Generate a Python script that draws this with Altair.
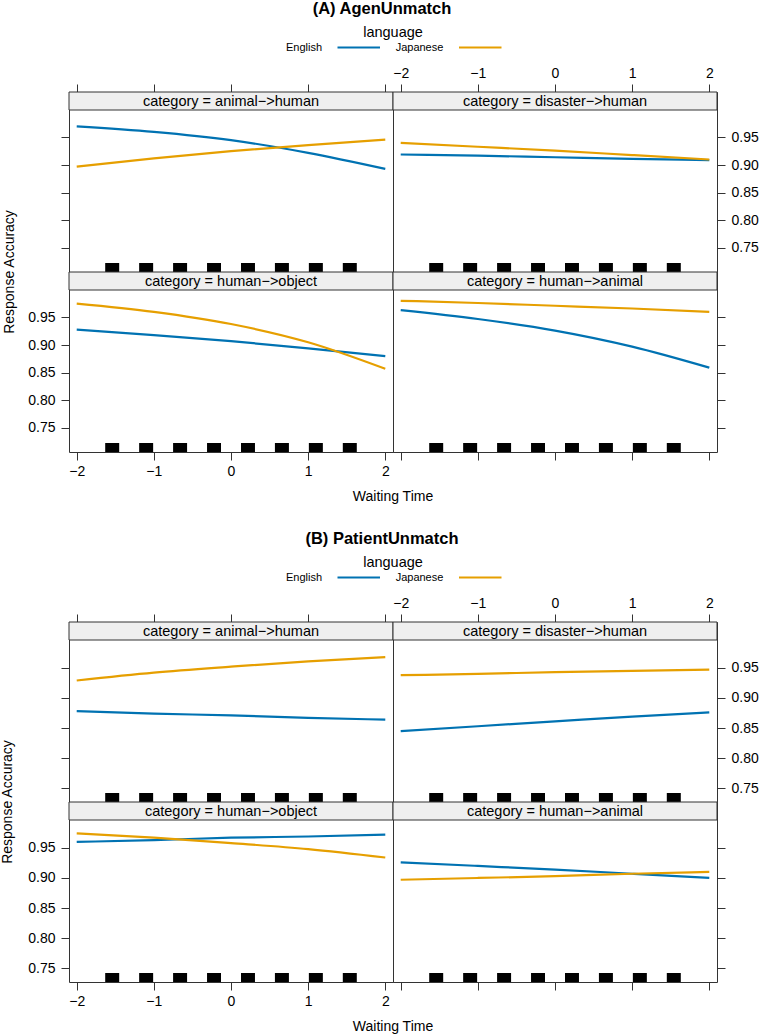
import altair as alt
import pandas as pd

FONT = "Liberation Sans"

# ---- data -------------------------------------------------------------
wait_points = [-2, -1, 0, 1, 2]
wait_ticks = [-2, -1, 0, 1, 2]
acc_ticks = [0.75, 0.80, 0.85, 0.90, 0.95]
languages = ["English", "Japanese"]
line_colors = ["#0072B2", "#E69F00"]
categories = ["animal->human", "disaster->human", "human->object", "human->animal"]
strip_labels = [
    "category = animal\u2212>human",
    "category = disaster\u2212>human",
    "category = human\u2212>object",
    "category = human\u2212>animal",
]
# observed waiting-time levels shown as a rug
rug_positions = [-1.54, -1.10, -0.66, -0.22, 0.22, 0.66, 1.10, 1.54]

# (A) AgenUnmatch: fitted response accuracy at each waiting time
a_animal_human_en = [0.970, 0.960, 0.945, 0.922, 0.893]
a_animal_human_ja = [0.897, 0.912, 0.925, 0.936, 0.946]
a_disaster_human_en = [0.919, 0.917, 0.914, 0.911, 0.909]
a_disaster_human_ja = [0.940, 0.933, 0.926, 0.918, 0.910]
a_human_object_en = [0.928, 0.918, 0.907, 0.894, 0.880]
a_human_object_ja = [0.975, 0.960, 0.938, 0.905, 0.857]
a_human_animal_en = [0.963, 0.947, 0.926, 0.897, 0.859]
a_human_animal_ja = [0.980, 0.976, 0.971, 0.966, 0.960]

# (B) PatientUnmatch
b_animal_human_en = [0.878, 0.874, 0.871, 0.867, 0.864]
b_animal_human_ja = [0.929, 0.942, 0.952, 0.961, 0.968]
b_disaster_human_en = [0.845, 0.853, 0.861, 0.869, 0.876]
b_disaster_human_ja = [0.938, 0.940, 0.943, 0.945, 0.947]
b_human_object_en = [0.960, 0.963, 0.967, 0.969, 0.972]
b_human_object_ja = [0.974, 0.967, 0.958, 0.948, 0.934]
b_human_animal_en = [0.926, 0.920, 0.914, 0.907, 0.900]
b_human_animal_ja = [0.897, 0.900, 0.903, 0.907, 0.910]

# ---- layout constants ---------------------------------------------------
W, H, S = 324, 180, 18          # panel width, panel height, strip height
X_DOMAIN = [-2.1, 2.1]


def effects_frame(series):
    rows = []
    for cat, (en, ja) in zip(categories, series):
        for lang, vals in zip(languages, [en, ja]):
            for w, p in zip(wait_points, vals):
                rows.append({"category": cat, "language": lang, "wait": w, "acc": p})
    return pd.DataFrame(rows)


df_a = effects_frame([
    (a_animal_human_en, a_animal_human_ja),
    (a_disaster_human_en, a_disaster_human_ja),
    (a_human_object_en, a_human_object_ja),
    (a_human_animal_en, a_human_animal_ja),
])
df_b = effects_frame([
    (b_animal_human_en, b_animal_human_ja),
    (b_disaster_human_en, b_disaster_human_ja),
    (b_human_object_en, b_human_object_ja),
    (b_human_animal_en, b_human_animal_ja),
])
rug_df = pd.DataFrame({"wait": rug_positions})


def x_axis(orient, labels):
    return alt.Axis(orient=orient, values=wait_ticks, labels=labels, format="d",
                    title=None, labelFlush=False, labelPadding=4)


def y_axis(orient, labels):
    return alt.Axis(orient=orient, values=acc_ticks, labels=labels, format=".2f",
                    title=None, labelPadding=6)


def text_layer(text, x, y, size, weight="normal", align="center", angle=0):
    return alt.Chart(pd.DataFrame({"t": [text]})).mark_text(
        font=FONT, fontSize=size, fontWeight=weight, align=align,
        baseline="middle", angle=angle, color="black",
    ).encode(text="t:N", x=alt.value(x), y=alt.value(y))


def panel(df, idx, ydom, xax, yax, extra=()):
    lo, hi = ydom
    top = hi + (hi - lo) * S / (H - S)   # headroom for the strip
    xs = alt.Scale(domain=X_DOMAIN, nice=False, zero=False)
    ys = alt.Scale(domain=[lo, top], nice=False, zero=False)
    cat = categories[idx]

    lines = alt.Chart(df[df["category"] == cat]).mark_line(
        strokeWidth=2.2, interpolate="monotone"
    ).encode(
        x=alt.X("wait:Q", scale=xs, axis=xax),
        y=alt.Y("acc:Q", scale=ys, axis=yax),
        color=alt.Color("language:N",
                        scale=alt.Scale(domain=languages, range=line_colors),
                        legend=None),
    )
    rug = alt.Chart(rug_df).mark_tick(
        orient="vertical", thickness=14, size=9, color="black", opacity=1
    ).encode(
        x=alt.X("wait:Q", scale=xs, axis=xax),
        y=alt.value(H - 4.5),
    )
    strip_df = pd.DataFrame({"label": [strip_labels[idx]]})
    strip_box = alt.Chart(strip_df).mark_rect(
        fill="#EFEFEF", stroke="#333333", strokeWidth=1
    ).encode(x=alt.value(0), x2=alt.value(W), y=alt.value(0), y2=alt.value(S))
    strip_txt = alt.Chart(strip_df).mark_text(
        font=FONT, fontSize=14.5, color="black", baseline="middle"
    ).encode(text="label:N", x=alt.value(W / 2), y=alt.value(S / 2 + 0.5))

    return alt.layer(lines, rug, strip_box, strip_txt, *extra).properties(width=W, height=H)


def legend_layers():
    layers = [text_layer("language", W, -59.5, 14.5)]
    label_x = [235, 350.5]
    line_x = [(268.5, 311), (390, 432.5)]
    for lang, col, lx, (x0, x1) in zip(languages, line_colors, label_x, line_x):
        layers.append(text_layer(lang, lx, -44.5, 11))
        layers.append(
            alt.Chart(pd.DataFrame({"language": [lang]})).mark_rule(
                strokeWidth=2.2, color=col
            ).encode(x=alt.value(x0), x2=alt.value(x1), y=alt.value(-44.5))
        )
    return layers


def figure(df, ydom, title, ytitle_x):
    tl_extra = [text_layer(title, 313, -83.5, 16.5, weight="bold")]
    tl_extra += legend_layers()
    tl_extra.append(text_layer("Response Accuracy", ytitle_x, H, 14, angle=270))
    bl_extra = [text_layer("Waiting Time", W, H + 45, 14)]

    tl = panel(df, 0, ydom, x_axis("top", False), y_axis("left", False), tl_extra)
    tr = panel(df, 1, ydom, x_axis("top", True), y_axis("right", True))
    bl = panel(df, 2, ydom, x_axis("bottom", True), y_axis("left", True), bl_extra)
    br = panel(df, 3, ydom, x_axis("bottom", False), y_axis("right", False))
    return alt.concat(tl, tr, bl, br, columns=2, spacing=0, bounds="flush")


fig_a = figure(df_a, (0.7065, 0.9995), "(A) AgenUnmatch", -59)
fig_b = figure(df_b, (0.727, 0.9964), "(B) PatientUnmatch", -61.5)

chart = alt.vconcat(fig_a, fig_b, spacing=25).properties(
    padding={"left": 0, "top": 0, "right": 0, "bottom": 0},
    background="white",
).configure_view(
    stroke="#333333", strokeWidth=1
).configure_axis(
    labelFont=FONT, labelFontSize=14, labelColor="black",
    tickColor="#333333", tickSize=8, tickWidth=1,
    domain=False, grid=False,
)

chart.save("out.html", embed_options={"renderer": "svg", "actions": False})
